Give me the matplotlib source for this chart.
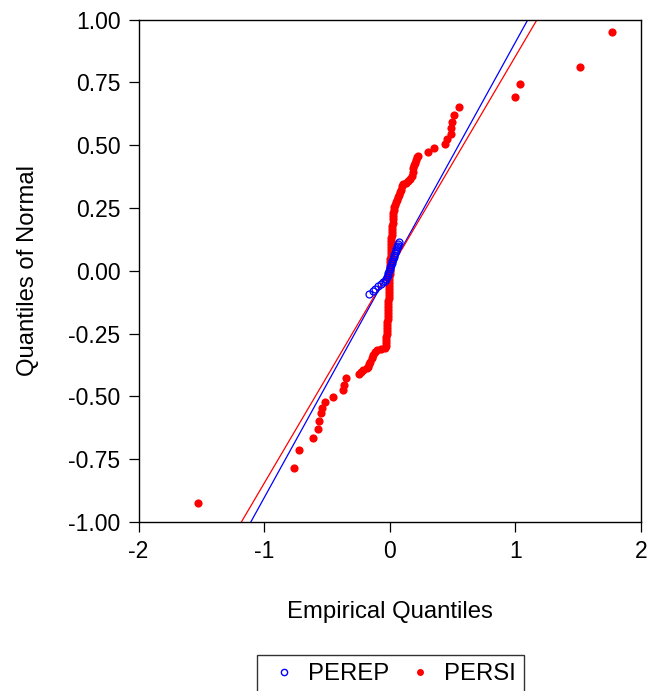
import matplotlib
matplotlib.use("Agg")
import matplotlib.pyplot as plt
from matplotlib.lines import Line2D

plt.rcParams['font.family'] = ['Liberation Sans', 'DejaVu Sans']
plt.rcParams['axes.unicode_minus'] = False

# PERSI (red filled dots): empirical quantile (x), normal quantile (y)
persi_x = [-1.530, -0.759, -0.724, -0.613, -0.570, -0.560, -0.547, -0.541, -0.515, -0.453,
           -0.369, -0.361, -0.350, -0.244, -0.225, -0.210, -0.185, -0.170, -0.162, -0.157,
           -0.142, -0.130, -0.115, -0.103, -0.070, -0.040,
           -0.032, -0.030, -0.028, -0.026, -0.025, -0.023, -0.022, -0.020, -0.018, -0.017,
           -0.016, -0.014, -0.013, -0.012, -0.011, -0.010, -0.009, -0.008, -0.007, -0.006,
           -0.005, -0.004, -0.003, -0.002, -0.001, 0.000, 0.001, 0.002, 0.003, 0.004,
           0.006, 0.007, 0.008, 0.009, 0.011, 0.012, 0.013, 0.015, 0.016, 0.018,
           0.020, 0.022, 0.024, 0.026, 0.029, 0.032, 0.036, 0.040, 0.047, 0.056,
           0.062, 0.070, 0.078, 0.088, 0.100, 0.108, 0.128, 0.148, 0.162, 0.175,
           0.182, 0.188, 0.194, 0.201, 0.208, 0.215, 0.223,
           0.302, 0.350, 0.440, 0.458, 0.485, 0.488, 0.498, 0.512, 0.554,
           0.997, 1.034, 1.514, 1.766]
persi_y = [-0.925, -0.785, -0.715, -0.666, -0.629, -0.597, -0.567, -0.547, -0.521, -0.501,
           -0.475, -0.455, -0.428, -0.412, -0.402, -0.395, -0.388, -0.382, -0.370, -0.362,
           -0.348, -0.335, -0.322, -0.315, -0.311, -0.306,
           -0.300, -0.288, -0.276, -0.264, -0.252, -0.240, -0.228, -0.216, -0.204, -0.192,
           -0.180, -0.168, -0.156, -0.144, -0.132, -0.120, -0.108, -0.096, -0.084, -0.072,
           -0.060, -0.048, -0.036, -0.024, -0.012, 0.000, 0.012, 0.024, 0.036, 0.048,
           0.060, 0.072, 0.084, 0.096, 0.108, 0.120, 0.132, 0.144, 0.156, 0.168,
           0.180, 0.192, 0.204, 0.216, 0.228, 0.240, 0.252, 0.262, 0.272, 0.282,
           0.292, 0.303, 0.314, 0.322, 0.336, 0.346, 0.351, 0.356, 0.366, 0.378,
           0.392, 0.408, 0.420, 0.430, 0.442, 0.452, 0.458,
           0.473, 0.490, 0.506, 0.524, 0.545, 0.569, 0.593, 0.620, 0.653,
           0.692, 0.742, 0.811, 0.949]

# PEREP (blue hollow circles)
perep_x = [-0.162, -0.137, -0.118, -0.092, -0.072, -0.050, -0.035, -0.028, -0.020, -0.015,
           -0.010, -0.004, 0.000, 0.005, 0.010, 0.015, 0.020, 0.026, 0.031, 0.037,
           0.042, 0.047, 0.052, 0.058, 0.062, 0.066, 0.072]
perep_y = [-0.092, -0.080, -0.072, -0.062, -0.052, -0.045, -0.040, -0.033, -0.025, -0.018,
           -0.010, -0.002, 0.006, 0.014, 0.022, 0.030, 0.038, 0.046, 0.054, 0.062,
           0.070, 0.078, 0.086, 0.094, 0.100, 0.106, 0.114]

# Reference lines (slope, intercept)
series_names = ["PEREP", "PERSI"]
line_slopes = [0.9066, 0.8496]
line_intercepts = [0.0027, 0.0034]
series_colors = ["#0000FF", "#FF0000"]

x_ticks = [-2, -1, 0, 1, 2]
y_ticks = [-1.00, -0.75, -0.50, -0.25, 0.00, 0.25, 0.50, 0.75, 1.00]

FS = 17.2

fig = plt.figure(figsize=(6.52, 6.91), dpi=100)
W, H = 652, 691
ax = fig.add_axes([138.5 / W, 1 - 522 / H, (641 - 138.5) / W, (522 - 19.5) / H])

for m, b, c in zip(line_slopes, line_intercepts, series_colors):
    ax.axline((0, b), slope=m, color=c, lw=0.9, zorder=2)

ax.plot(persi_x, persi_y, 'o', color=series_colors[1], ms=5.9, mew=0, zorder=3)
ax.plot(perep_x, perep_y, 'o', mfc='none', mec=series_colors[0], ms=5.0, mew=0.9, zorder=4)

ax.set_xlim(-2, 2)
ax.set_ylim(-1, 1)
ax.set_xticks(x_ticks)
ax.set_xticklabels([str(t) for t in x_ticks])
ax.set_yticks(y_ticks)
ax.set_yticklabels(["%.2f" % t for t in y_ticks])
ax.tick_params(direction='out', length=7, width=0.9, labelsize=16.5, pad=6,
               top=False, right=False)
for s in ax.spines.values():
    s.set_linewidth(1.0)

ax.set_xlabel("Empirical Quantiles", fontsize=FS, labelpad=27)
ax.set_ylabel("Quantiles of Normal", fontsize=FS, labelpad=21)

handles = [Line2D([], [], ls='none', marker='o', mfc='none', mec=series_colors[0], ms=4.5, mew=1),
           Line2D([], [], ls='none', marker='o', color=series_colors[1], ms=5.0, mew=0)]
leg = fig.legend(handles, series_names, loc='upper center', bbox_to_anchor=(390.5 / W, 1 - 655 / H),
                 ncol=2, fontsize=FS, frameon=True, fancybox=False, shadow=False,
                 handlelength=1.6, handletextpad=0.2, columnspacing=0.5, borderpad=0.35,
                 borderaxespad=0)
leg.get_frame().set_edgecolor('black')
leg.get_frame().set_linewidth(1.0)

fig.savefig("out.png", dpi=100)
